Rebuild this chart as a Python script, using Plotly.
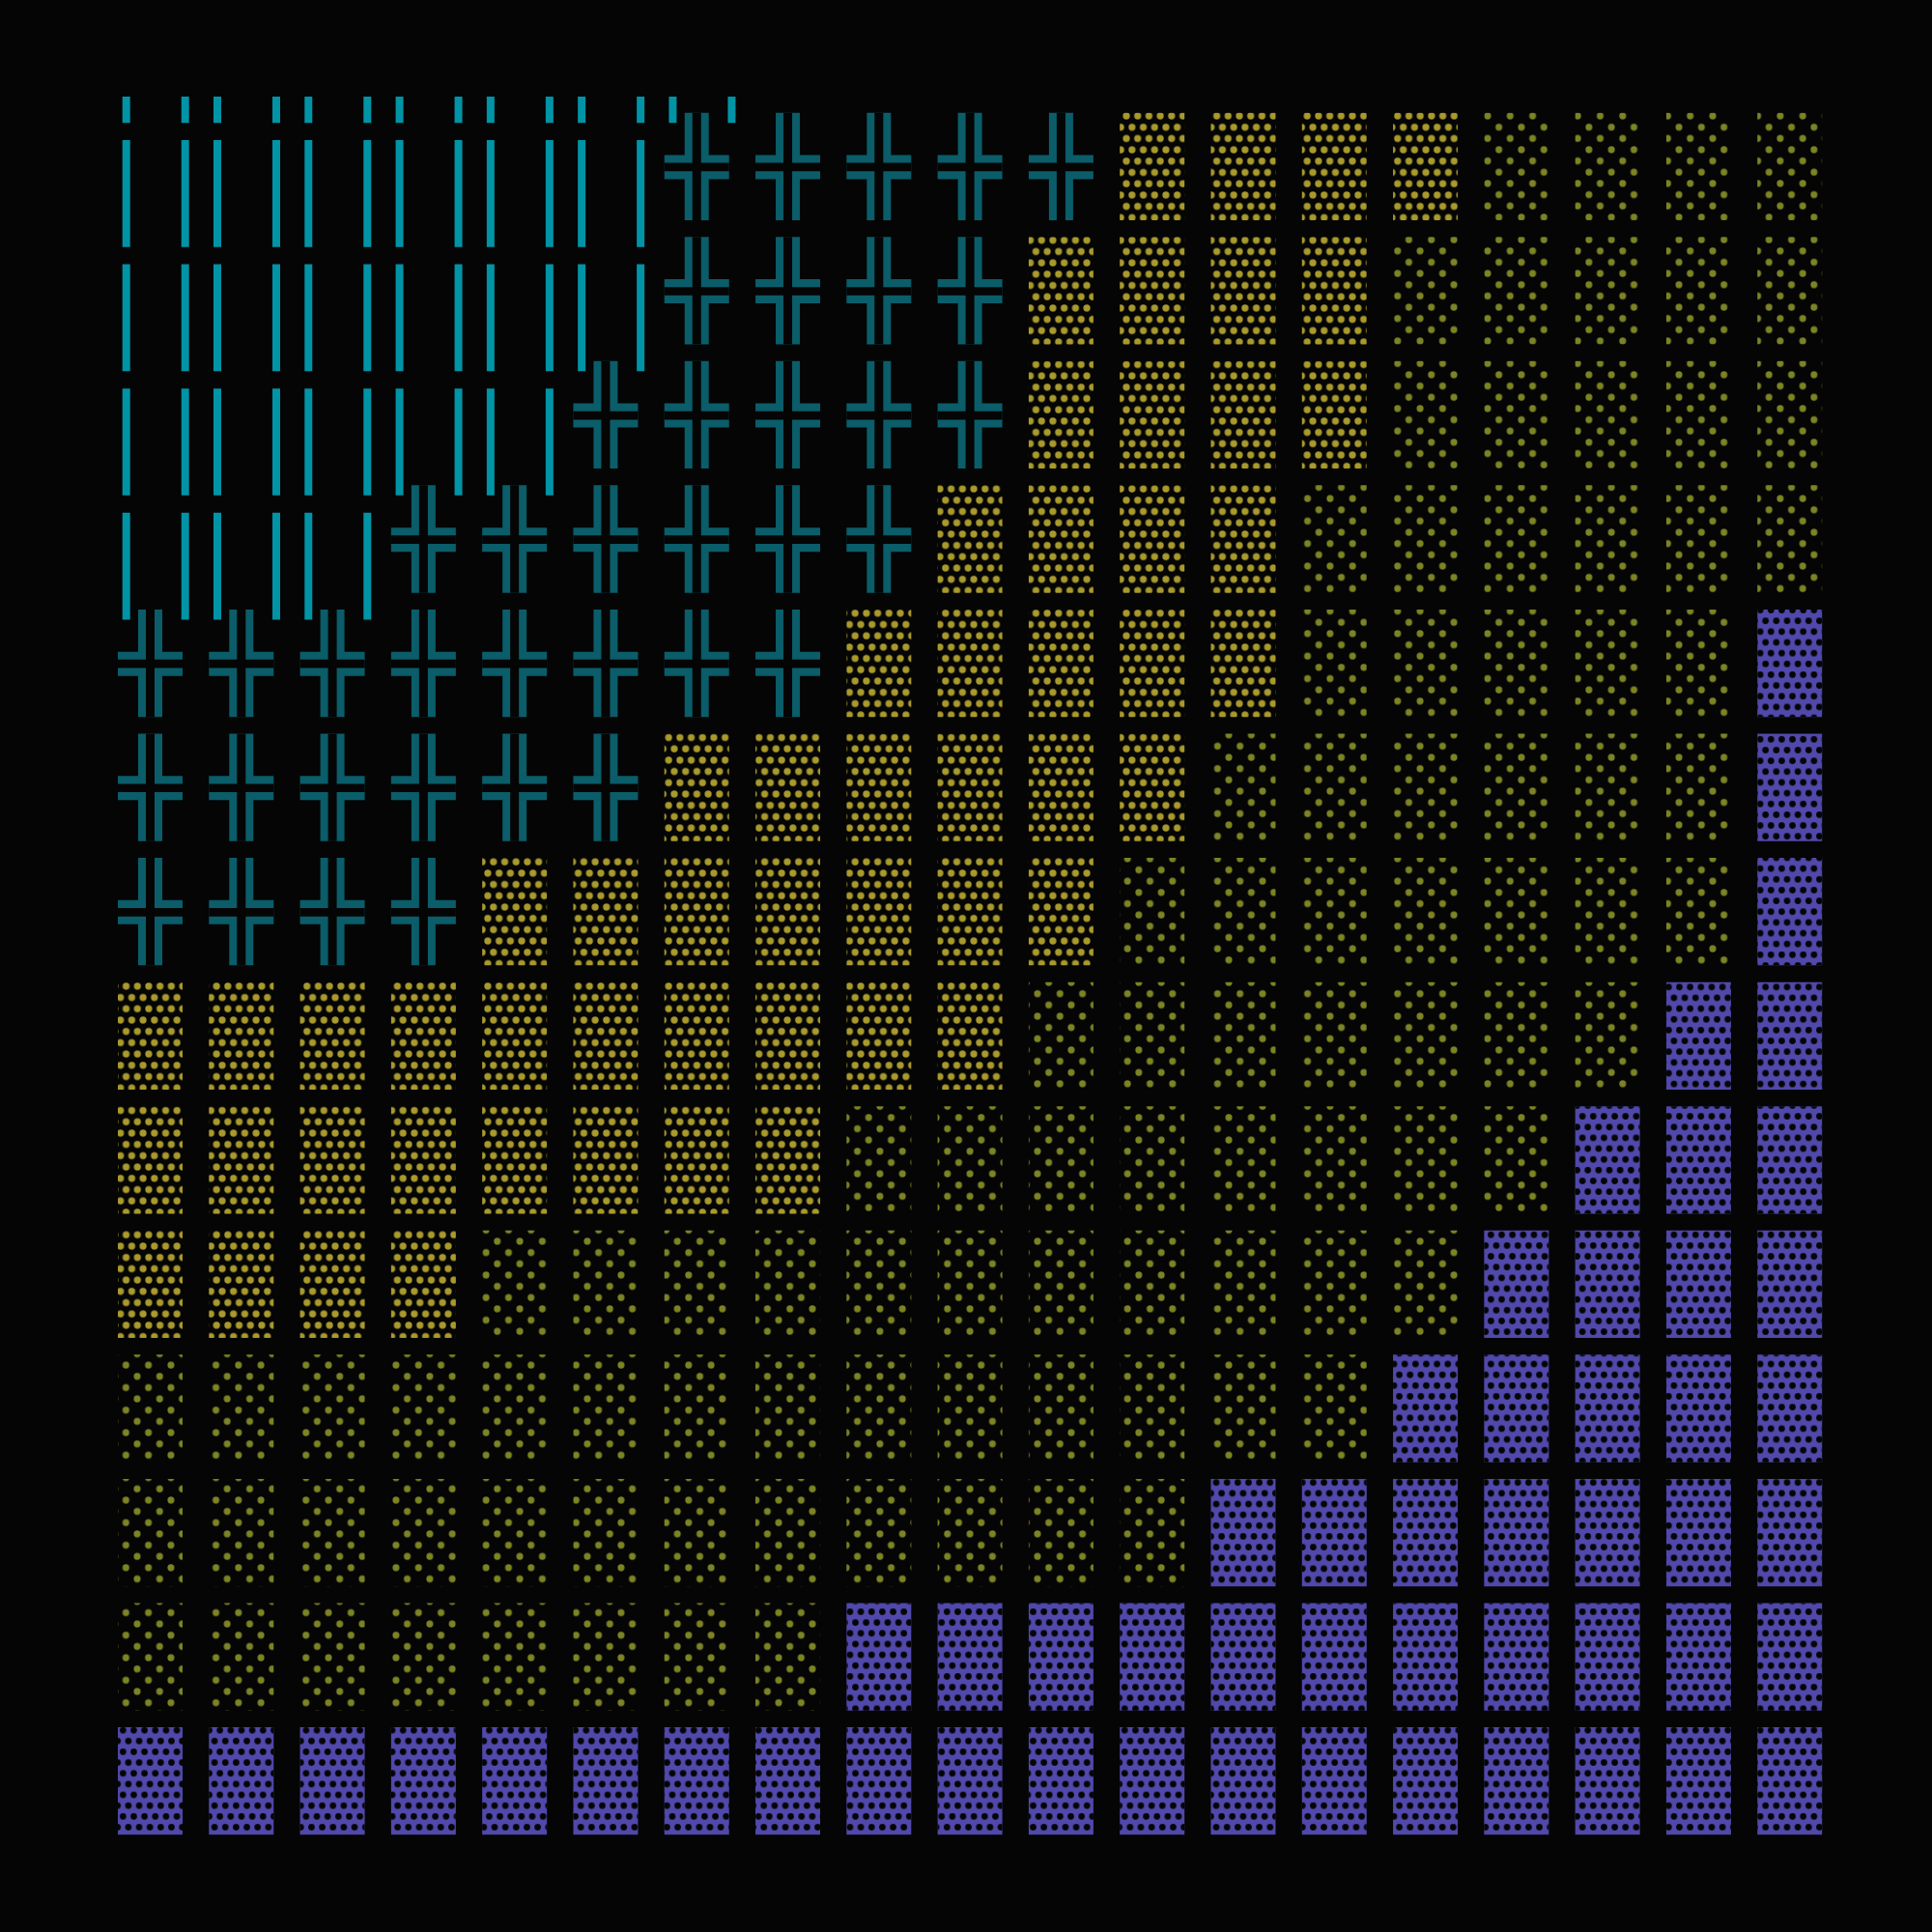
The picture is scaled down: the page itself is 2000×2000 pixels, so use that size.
import plotly.graph_objects as go

# ---------------- data ----------------
N_COLS = 19
N_ROWS = 14
categories = ["cyan", "teal", "yellow", "olive", "purple"]
# number of cells of each category per grid row (top row first), filled left to right
cyan_row   = [6, 6, 5, 3, 0, 0, 0, 0, 0, 0, 0, 0, 0, 0]
teal_row   = [5, 4, 5, 6, 8, 6, 4, 0, 0, 0, 0, 0, 0, 0]
yellow_row = [4, 4, 4, 4, 5, 6, 7, 10, 8, 4, 0, 0, 0, 0]
olive_row  = [4, 5, 5, 6, 5, 6, 7, 7, 8, 11, 14, 12, 8, 0]
purple_row = [0, 0, 0, 0, 1, 1, 1, 2, 3, 4, 5, 7, 11, 19]
cyan_overflow = 7  # cyan cells in the partial row just above the grid

# ---------------- style ----------------
BG = "#050505"
CLEAR = "rgba(0,0,0,0)"
COLORS = {"cyan": "#0094A6", "teal": "#0A5D69", "yellow": "#A99A2C",
          "olive": "#7C8424", "purple": "#5048AA"}
PX_X = 94.29   # pixels per column
PX_Y = 128.57  # pixels per row
CW = 67 / PX_X     # cell width
CH = 111.3 / PX_Y  # cell height
BASE0 = 0.005
M = 50             # figure margin (px); the grid area is 100..1900
AREA = 2000 - 2 * M
X0 = -(155.5 - 100) / PX_X


def data_x(px):
    return X0 + (px - 100) / PX_X


def data_y(py):
    return (1900 - py) / PX_Y


# build cell lists
cells = {c: ([], []) for c in categories}
rows = list(zip(cyan_row, teal_row, yellow_row, olive_row, purple_row))
for i, counts in enumerate(rows):
    k = N_ROWS - 1 - i
    col = 0
    for cat, n in zip(categories, counts):
        for _ in range(n):
            cells[cat][0].append(col)
            cells[cat][1].append(k)
            col += 1
for col in range(cyan_overflow):
    cells["cyan"][0].append(col)
    cells["cyan"][1].append(N_ROWS)

fig = go.Figure()
layout_axes = {}
axis_count = [0]


def new_axes(left, top, right=2000 - M, bottom=2000 - M):
    """Subplot whose plot area starts at page pixel (left, top), same data mapping."""
    axis_count[0] += 1
    n = axis_count[0]
    sx = "" if n == 1 else str(n)
    layout_axes["xaxis" + sx] = dict(
        domain=[(left - M) / AREA, (right - M) / AREA],
        range=[data_x(left), data_x(right)], visible=False, fixedrange=True,
        anchor="y" + sx)
    layout_axes["yaxis" + sx] = dict(
        domain=[1 - (bottom - M) / AREA, 1 - (top - M) / AREA],
        range=[data_y(bottom), data_y(top)], visible=False, fixedrange=True,
        anchor="x" + sx)
    return "x" + sx, "y" + sx


# base subplot: exactly the grid area (clips the cyan overflow row)
bx, by = new_axes(100, 100, 1900, 1900)

# purple solid cells
xs, ks = cells["purple"]
fig.add_trace(go.Bar(
    x=xs, y=[CH] * len(xs), base=[k + BASE0 for k in ks], width=CW,
    xaxis=bx, yaxis=by, marker=dict(color=COLORS["purple"], line=dict(width=0)),
    hoverinfo="skip"))

# teal crosses
xs, ks = cells["teal"]
band_w = 25 / PX_X
gap_w = 9 / PX_X
band_h = 25 / PX_Y
gap_h = 8.7 / PX_Y
mid = 0.433
teal_parts = [
    (band_w, -band_w / 2, [k + BASE0 for k in ks], CH, COLORS["teal"]),
    (CW, -CW / 2, [k + mid - band_h / 2 for k in ks], band_h, COLORS["teal"]),
    (gap_w, -gap_w / 2, [k + BASE0 for k in ks], CH, BG),
    (CW, -CW / 2, [k + mid - gap_h / 2 for k in ks], gap_h, BG),
]
for w, off, base, h, colr in teal_parts:
    fig.add_trace(go.Bar(
        x=xs, y=[h] * len(xs), base=base, width=w, offset=off, xaxis=bx, yaxis=by,
        marker=dict(color=colr, line=dict(width=0)), hoverinfo="skip"))

# cyan vertical line pairs
xs, ks = cells["cyan"]
line_w = 8 / PX_X
for off in (-28.8 / PX_X, 32.2 / PX_X):
    fig.add_trace(go.Bar(
        x=xs, y=[110.7 / PX_Y] * len(xs), base=[k - 0.211 for k in ks],
        width=line_w, offset=off, xaxis=bx, yaxis=by,
        marker=dict(color=COLORS["cyan"], line=dict(width=0)), hoverinfo="skip"))

# staggered dot textures: each is the union of square sub-lattices (tile s),
# realised by shifting the pattern origin through a shifted subplot.
dot_textures = {
    # cat: (spacing a, dot color, solidity, anchor dot (px), dot-phase list in units of a)
    "yellow": (11.7, COLORS["yellow"], 0.075, (1166.0, 120.0), [(0, 0), (1, 0), (-0.5, 1), (0.5, 1)]),
    "olive": (11.65, COLORS["olive"], 0.072, (1540.0, 120.0), [(0, 0), (1, 1)]),
    "purple": (11.15, BG, 0.07, (1827.7, 1802.3), [(0, 0), (1, 0), (0.5, 1), (1.5, 1)]),
}
for cat, (a, colr, sol, (tx, ty), phases) in dot_textures.items():
    s = 2 * a
    xs, ks = cells[cat]
    for px_, py_ in phases:
        dx_t = tx + px_ * a
        dy_t = ty + py_ * a
        ox = 100 - s + ((dx_t - s / 2 - 100) % s)
        oy = 100 - s + ((dy_t - s / 2 - 100) % s)
        ax_x, ax_y = new_axes(ox, oy)
        fig.add_trace(go.Bar(
            x=xs, y=[CH] * len(xs), base=[k + BASE0 for k in ks], width=CW,
            xaxis=ax_x, yaxis=ax_y,
            marker=dict(color=CLEAR, line=dict(width=0),
                        pattern=dict(shape=".", size=s, solidity=sol, fgcolor=colr,
                                     bgcolor=CLEAR, fillmode="replace")),
            hoverinfo="skip"))

fig.update_layout(
    width=2000, height=2000,
    margin=dict(l=M, r=M, t=M, b=M),
    paper_bgcolor=BG, plot_bgcolor=CLEAR,
    barmode="overlay", showlegend=False,
    **layout_axes,
)
fig.write_html(
    "out.html",
    config={"displayModeBar": False},
    post_script=(
        "document.body.style.margin='0';"
        "document.body.style.background='" + BG + "';"
        "document.body.style.overflow='hidden';"
    ),
)
